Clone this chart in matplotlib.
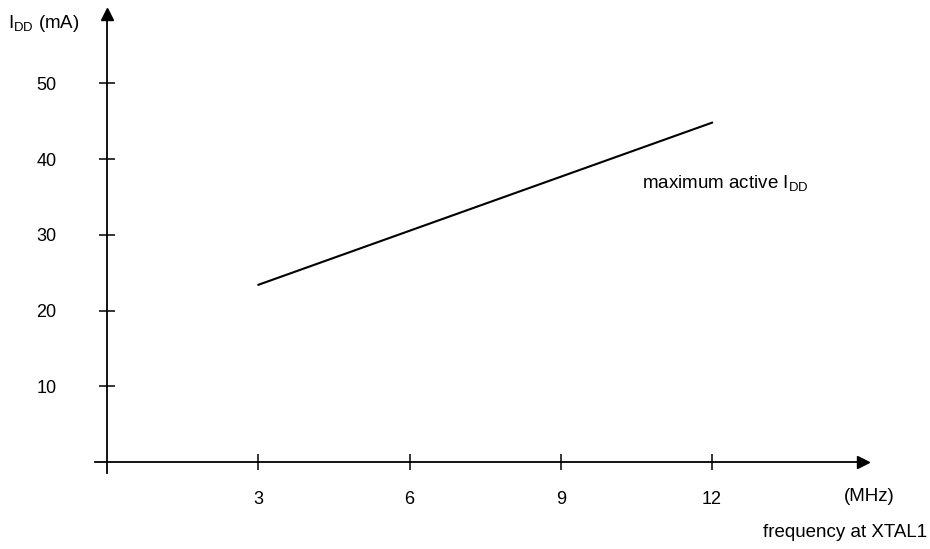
import matplotlib.pyplot as plt

plt.rcParams['font.family'] = ['Liberation Sans', 'DejaVu Sans']
plt.rcParams['mathtext.default'] = 'regular'

# data
freq = [3, 12]
idd_max = [23.4, 44.8]
x_ticks = [3, 6, 9, 12]
y_ticks = [10, 20, 30, 40, 50]

fig = plt.figure(figsize=(9.3, 5.49), dpi=100)
ax = fig.add_axes([0, 0, 1, 1])
ax.set_facecolor('none')

# pixel mapping: x0=107.3px, 50.39 px/MHz ; y0=462px, 7.574 px/mA
ax.set_xlim(-107.3 / 50.39, (930 - 107.3) / 50.39)
ax.set_ylim(-(549 - 462) / 7.574, 462 / 7.574)

ax.plot(freq, idd_max, color='black', lw=1.5)

# axes through origin
for s in ['top', 'right']:
    ax.spines[s].set_visible(False)
ax.spines['left'].set_position(('data', 0))
ax.spines['bottom'].set_position(('data', 0))
ax.spines['left'].set_bounds(-1.45, 59.0)
ax.spines['bottom'].set_bounds(-0.25, 14.9)
ax.spines['left'].set_linewidth(1.3)
ax.spines['bottom'].set_linewidth(1.3)

ax.plot(15.0, 0, marker='>', color='black', ms=8, clip_on=False)
ax.plot(0, 59.2, marker='^', color='black', ms=8, clip_on=False)

ax.set_xticks(x_ticks)
ax.set_yticks(y_ticks)
ax.tick_params(direction='inout', length=11.5, width=1.1, labelsize=13)
ax.tick_params(axis='x', pad=15)
ax.tick_params(axis='y', pad=31)

ax.text(-1.97, 57.9, 'I$_{DD}$ (mA)', fontsize=13.5, ha='left', va='center')
ax.text(10.61, 36.2, 'maximum active I$_{DD}$', fontsize=13.5, ha='left', va='baseline')
ax.text(15.12, -4.6, '(MHz)', fontsize=13.5, ha='center', va='center')
ax.text(16.27, -9.35, 'frequency at XTAL1', fontsize=13.5, ha='right', va='center')

fig.savefig('out.png', dpi=100)
